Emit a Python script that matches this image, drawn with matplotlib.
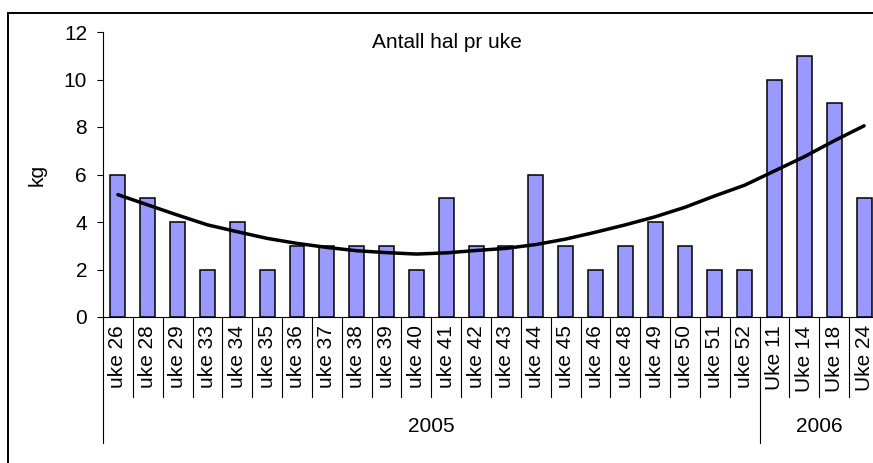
import matplotlib
matplotlib.use('Agg')
import matplotlib.pyplot as plt
import matplotlib.transforms as mtransforms
from matplotlib.patches import Rectangle

# DATA
weeks = ['uke 26', 'uke 28', 'uke 29', 'uke 33', 'uke 34', 'uke 35', 'uke 36',
         'uke 37', 'uke 38', 'uke 39', 'uke 40', 'uke 41', 'uke 42', 'uke 43',
         'uke 44', 'uke 45', 'uke 46', 'uke 48', 'uke 49', 'uke 50', 'uke 51',
         'uke 52', 'Uke 11', 'Uke 14', 'Uke 18', 'Uke 24']
counts = [6, 5, 4, 2, 4, 2, 3, 3, 3, 3, 2, 5, 3, 3, 6, 3, 2, 3, 4, 3, 2, 2,
          10, 11, 9, 5]
# trendline (Excel polynomial trend)
trend = [5.15, 4.72, 4.29, 3.88, 3.59, 3.31, 3.10, 2.93, 2.79, 2.71, 2.65,
         2.70, 2.80, 2.89, 3.05, 3.28, 3.57, 3.88, 4.22, 4.62, 5.10, 5.55,
         6.15, 6.75, 7.42, 8.05]
years = ['2005', '2006']
year_sizes = [22, 4]

BAR = '#9999FF'
W, H = 873, 463
FS = 15

plt.rcParams['font.family'] = ['Liberation Sans', 'DejaVu Sans']

fig = plt.figure(figsize=(W / 100, H / 100), dpi=100)
fig.patch.set_facecolor('white')

# plot area in pixels: x 103..879 (right edge runs off the picture), y 32..317
ax = fig.add_axes([103 / W, (H - 317) / H, (879 - 103) / W, (317 - 32) / H])

x = list(range(len(weeks)))
ax.bar(x, counts, width=0.5, color=BAR, edgecolor='black', linewidth=1.1, zorder=2)
ax.plot(x, trend, color='black', linewidth=2.5, solid_capstyle='round', zorder=3)

ax.set_xlim(-0.5, len(weeks) - 0.5)
ax.set_ylim(0, 12)
ax.set_yticks(range(0, 13, 2))
ax.tick_params(axis='y', direction='out', length=4.5, width=0.8, pad=7, labelsize=FS)
ax.set_xticks(x)
ax.set_xticklabels(weeks, rotation=90, fontsize=FS)
ax.tick_params(axis='x', length=0, pad=6)

for s in ['top', 'right']:
    ax.spines[s].set_visible(False)
ax.spines['left'].set_linewidth(0.8)
ax.spines['bottom'].set_linewidth(0.8)

# category separators below the axis
trans = mtransforms.blended_transform_factory(ax.transData, ax.transAxes)
ax_h = 317 - 32
short = 80 / ax_h
long_ = 126 / ax_h
bounds = [0]
for n in year_sizes:
    bounds.append(bounds[-1] + n)
for i in range(len(weeks) + 1):
    depth = long_ if i in bounds else short
    ax.plot([i - 0.5, i - 0.5], [0, -depth], color='black', linewidth=0.8,
            transform=trans, clip_on=False)

# year group labels
for k, yr in enumerate(years):
    mid = (bounds[k] + bounds[k + 1]) / 2 - 0.5
    ax.text(mid, -109 / ax_h, yr, transform=trans, ha='center', va='center',
            fontsize=FS)

fig.text(37 / W, 1 - 175 / H, 'kg', rotation=90, ha='center', va='center',
         fontsize=FS)
fig.text(447 / W, 1 - 42 / H, 'Antall hal pr uke', ha='center', va='center',
         fontsize=FS)

# chart area border (right and bottom edges fall outside the picture)
fig.patches.append(Rectangle((7.5 / W, -0.2), 1.2, 1.2 - 12.5 / H,
                             transform=fig.transFigure, fill=False,
                             edgecolor='black', linewidth=1.4))

fig.savefig('out.png', dpi=100)
